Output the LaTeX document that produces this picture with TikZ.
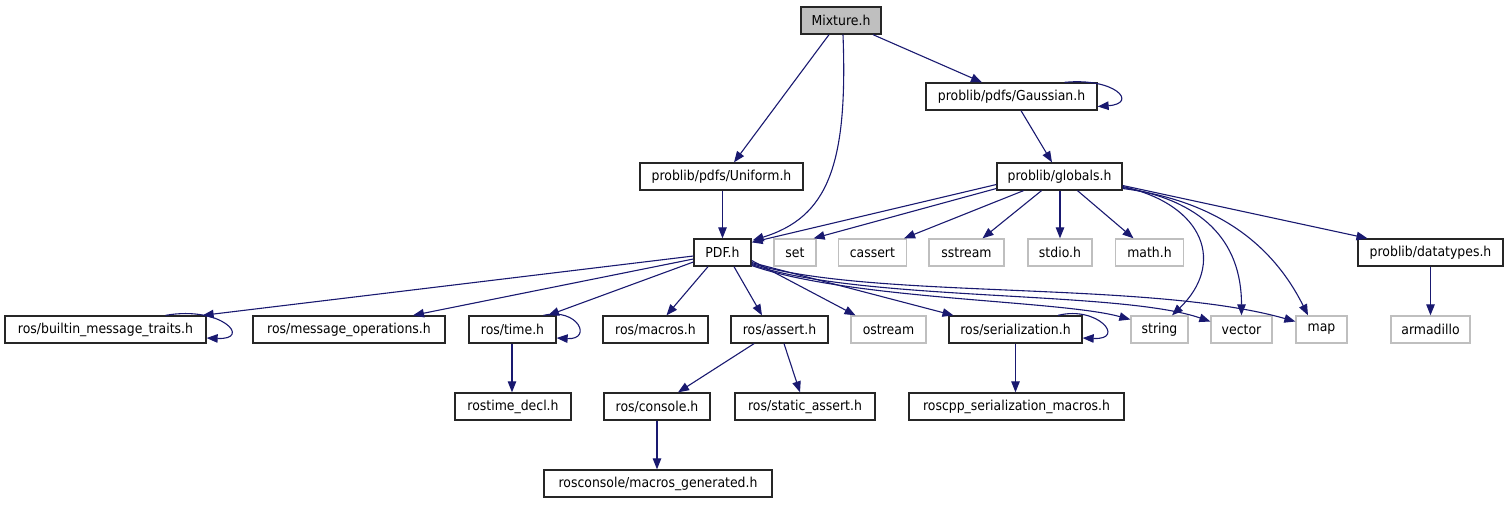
\documentclass[tikz,border=0pt]{standalone}
\usepackage{fontspec}
\setmainfont{DejaVu Sans}[FakeStretch=0.91]
\usetikzlibrary{arrows.meta}
\definecolor{edgecol}{HTML}{191970}
\definecolor{grayline}{HTML}{BFBFBF}
\definecolor{grayfill}{HTML}{BFBFBF}
\begin{document}
\begin{tikzpicture}[x=1pt,y=-1pt,
  box/.style={draw=black!85, line width=1.3pt, minimum height=27pt, inner sep=0pt,
    font=\fontsize{13.7}{16}\selectfont, text=black},
  ext/.style={box, draw=grayline},
  edge/.style={draw=edgecol, line width=1.1pt, -{Triangle[length=11pt,width=8.5pt]}}]
\useasboundingbox (0,0) rectangle (1508,504);
% row 0
\node[box, fill=grayfill, minimum width=80pt] (mix) at (841,20.5) {Mixture.h};
% row 1
\node[box, minimum width=171pt] (gauss) at (1011.5,96.5) {problib/pdfs/Gaussian.h};
% row 2
\node[box, minimum width=163pt] (uni) at (721.5,176.5) {problib/pdfs/Uniform.h};
\node[box, minimum width=125pt] (glob) at (1059.5,176.5) {problib/globals.h};
% row 3
\node[box, minimum width=57pt] (pdf) at (722.5,252.5) {PDF.h};
\node[ext, minimum width=42pt] (set) at (795,252.5) {set};
\node[ext, minimum width=68pt] (cassert) at (872.4,252.5) {cassert};
\node[ext, minimum width=75pt] (sstream) at (966.5,252.5) {sstream};
\node[ext, minimum width=64pt] (stdio) at (1060,252.5) {stdio.h};
\node[ext, minimum width=68pt] (math) at (1149.5,252.5) {math.h};
\node[box, minimum width=145pt] (dtypes) at (1430.5,252.5) {problib/datatypes.h};
% row 4
\node[box, minimum width=201pt] (builtin) at (105.5,329.5) {ros/builtin\_message\_traits.h};
\node[box, minimum width=192pt] (msgops) at (349,329.5) {ros/message\_operations.h};
\node[box, minimum width=87pt] (time) at (512.5,329.5) {ros/time.h};
\node[box, minimum width=105pt] (macros) at (655.5,329.5) {ros/macros.h};
\node[box, minimum width=97pt] (assert) at (779.5,329.5) {ros/assert.h};
\node[ext, minimum width=75pt] (ostream) at (888.5,329.5) {ostream};
\node[box, minimum width=133pt] (serial) at (1015.5,329.5) {ros/serialization.h};
\node[ext, minimum width=57pt] (string) at (1159.5,329.5) {string};
\node[ext, minimum width=61pt] (vector) at (1241.5,329.5) {vector};
\node[ext, minimum width=51pt] (map) at (1321.5,329.5) {map};
\node[ext, minimum width=79pt] (armadillo) at (1430.5,329.5) {armadillo};
% row 5
\node[box, minimum width=116pt] (rostime) at (513,406.5) {rostime\_decl.h};
\node[box, minimum width=106pt] (console) at (657,406.5) {ros/console.h};
\node[box, minimum width=140pt] (static) at (805,406.5) {ros/static\_assert.h};
\node[box, minimum width=215pt] (roscpp) at (1016.5,406.5) {roscpp\_serialization\_macros.h};
% row 6
\node[box, minimum width=228pt] (macgen) at (658,483.5) {rosconsole/macros\_generated.h};

% edges from Mixture.h
\draw[edge] ([xshift=-12pt]mix.south) -- ([xshift=12.5pt]uni.north);
\draw[edge] ([xshift=2pt]mix.south) .. controls +(5,131) and +(75,-23) .. ([xshift=1pt,yshift=-2pt]pdf.north east);
\draw[edge] ([xshift=32pt]mix.south) -- ([xshift=-29.5pt]gauss.north);
% Gaussian
\draw[edge] ([xshift=53pt]gauss.north) .. controls +(51,-5) and +(41,-3) .. ([yshift=-10pt]gauss.east);
\draw[edge] ([xshift=9.5pt]gauss.south) -- ([xshift=-7.5pt]glob.north);
% Uniform
\draw[edge] ([xshift=1pt]uni.south) -- (pdf.north);
% globals
\draw[edge] ([yshift=-8pt]glob.west) -- ([yshift=-4pt]pdf.north east);
\draw[edge] ([yshift=-12pt]glob.west) -- ([xshift=-3pt]set.north east);
\draw[edge] ([xshift=-36pt]glob.south) -- ([xshift=-3pt]cassert.north east);
\draw[edge] ([xshift=-18pt]glob.south) -- ([xshift=16pt]sstream.north);
\draw[edge] ([xshift=0.5pt]glob.south) -- (stdio.north);
\draw[edge] ([xshift=18pt]glob.south) -- ([xshift=-16pt]math.north);
\draw[edge] ([yshift=-10pt]glob.east) .. controls +(83,18.5) and +(53,-51) .. ([xshift=12.5pt]string.north);
\draw[edge] ([yshift=-11pt]glob.east) .. controls +(78,12.5) and +(0,-76) .. (vector.north);
\draw[edge] ([yshift=-12pt]glob.east) .. controls +(88,11.5) and +(-38,-76) .. ([xshift=-13.5pt]map.north);
\draw[edge] ([yshift=-9pt]glob.east) -- ([xshift=-63pt]dtypes.north);
\draw[edge] (dtypes.south) -- (armadillo.north);
% PDF.h
\draw[edge] ([yshift=-3.5pt]pdf.west) -- ([xshift=-4pt]builtin.north east);
\draw[edge] ([yshift=-6.5pt]pdf.west) -- ([xshift=64pt]msgops.north);
\draw[edge] ([yshift=-9.5pt]pdf.west) -- ([xshift=35.5pt]time.north);
\draw[edge] ([xshift=-14.5pt]pdf.south) -- ([xshift=11pt]macros.north);
\draw[edge] ([xshift=11.5pt]pdf.south) -- ([xshift=-17.5pt]assert.north);
\draw[edge] ([yshift=-8pt]pdf.east) -- ([xshift=-33pt]ostream.north);
\draw[edge] ([yshift=-10pt]pdf.east) -- ([xshift=-62pt]serial.north);
\draw[edge] ([yshift=-13pt]pdf.east) .. controls +(99,34.5) and +(-71,-19.5) .. ([yshift=10pt]string.west);
\draw[edge] ([yshift=-12pt]pdf.east) .. controls +(109,37.5) and +(-91,-31.5) .. ([yshift=8pt]vector.west);
\draw[edge] ([yshift=-11pt]pdf.east) .. controls +(119,36.5) and +(-146,-41.5) .. ([yshift=8pt]map.west);
% self loops
\draw[edge] ([xshift=60pt]builtin.north) .. controls +(56.5,-10) and +(46,2) .. ([yshift=-8.5pt]builtin.east);
\draw[edge] ([xshift=31pt]time.north) .. controls +(35,-8) and +(36,2) .. ([yshift=-8.5pt]time.east);
\draw[edge] ([xshift=42.5pt]serial.north) .. controls +(40,-10) and +(44,2) .. ([yshift=-8.5pt]serial.east);
% lower levels
\draw[edge] ([xshift=-0.5pt]time.south) -- ([xshift=-1pt]rostime.north);
\draw[edge] ([xshift=-25.5pt]assert.south) -- ([xshift=21pt]console.north);
\draw[edge] ([xshift=4.5pt]assert.south) -- ([xshift=-5pt]static.north);
\draw[edge] (serial.south) -- ([xshift=-1pt]roscpp.north);
\draw[edge] (console.south) -- ([xshift=-1pt]macgen.north);
\end{tikzpicture}
\end{document}
